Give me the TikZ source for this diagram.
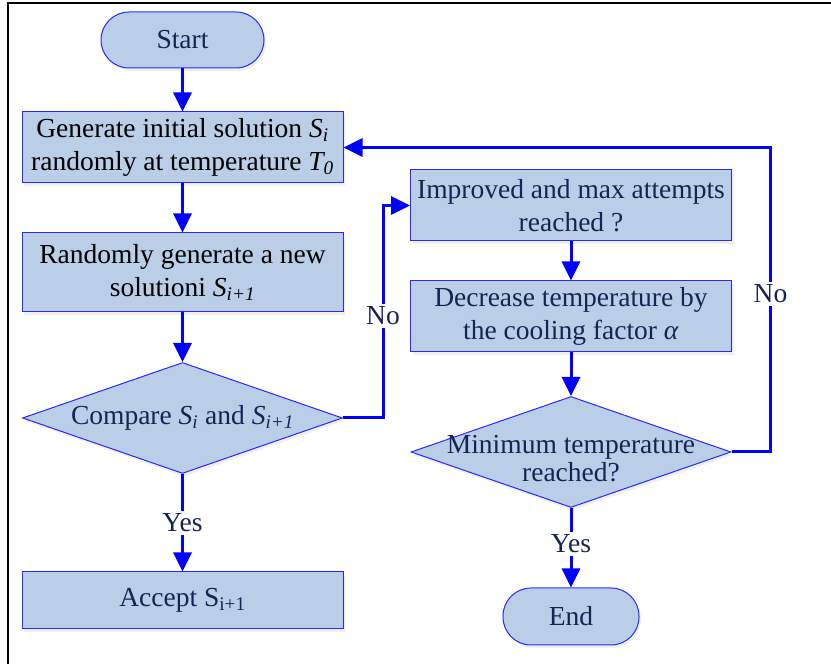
\documentclass[tikz,border=0pt]{standalone}
\usepackage{fontspec}
\setmainfont{Liberation Serif}
\usetikzlibrary{shapes.geometric,arrows.meta,shadows}

\begin{document}
\begin{tikzpicture}[x=1pt,y=1pt,
  every node/.style={font=\fontsize{27.5}{33}\selectfont},
  box/.style={draw=edge, fill=shade, text=ink, line width=1pt, align=center,
    minimum width=321pt, minimum height=71pt, inner sep=0pt,
    drop shadow={opacity=0.12, shadow xshift=2pt, shadow yshift=-3pt}},
  term/.style={box, rounded corners=28pt, minimum width=163pt, minimum height=56pt},
  decide/.style={diamond, aspect=3, draw=edge, fill=shade, text=ink, line width=1pt,
    minimum width=320pt, minimum height=111pt, inner sep=0pt,
    drop shadow={opacity=0.12, shadow xshift=2pt, shadow yshift=-3pt}},
  flow/.style={draw=wire, line width=3pt, -{Triangle[length=19pt,width=18pt]}},
  tag/.style={fill=white, text=ink, inner sep=3pt}]
  \definecolor{ink}{RGB}{22,36,84}
  \definecolor{shade}{RGB}{186,206,232}
  \definecolor{edge}{RGB}{40,40,255}
  \definecolor{wire}{RGB}{0,0,255}

  \useasboundingbox (0,0) rectangle (831,664);
  \draw[line width=2.5pt] (8,0) -- (8,661) -- (831,661);

  % left column
  \node[term] (start) at (182.5,624) {Start};
  \node[box, text=black] (init) at (182.5,516.5)
    {Generate initial solution \textit{S\textsubscript{i}}\\randomly at temperature \textit{T\textsubscript{0}}};
  \node[box, text=black, minimum height=79pt] (newsol) at (182.5,391.5)
    {Randomly generate a new\\solutioni \textit{S\textsubscript{i+1}}};
  \node[decide] (compare) at (182.5,246)
    {Compare \textit{S\textsubscript{i}} and \textit{S\textsubscript{i+1}}};
  \node[box, minimum height=57pt] (accept) at (182.5,63.5) {Accept S\textsubscript{i+1}};

  % right column
  \node[box] (improved) at (571,458.5) {Improved and max attempts\\reached ?};
  \node[box] (decrease) at (571,347.5) {Decrease temperature by\\the cooling factor \textit{α}};
  \node[decide, label={[align=center, text=ink, yshift=-7pt,
      font=\fontsize{27.5}{28}\selectfont]center:Minimum temperature\\reached?}]
    (mintemp) at (571,212) {};
  \node[term, minimum width=136pt, minimum height=57pt] (finish) at (571,47.5) {End};

  % connectors
  \draw[flow] (start) -- (init);
  \draw[flow] (init) -- (newsol);
  \draw[flow] (newsol) -- (compare);
  \draw[flow] (compare) -- node[tag] {Yes} (accept);
  \draw[flow] (compare.east) -- ++(40,0) |- node[tag, pos=0.24] {No} (improved.west);
  \draw[flow] (improved) -- (decrease);
  \draw[flow] (decrease) -- (mintemp);
  \draw[flow] (mintemp) -- node[tag, pos=0.45] {Yes} (finish);
  \draw[flow] (mintemp.east) -- ++(39,0) |- node[tag, pos=0.26] {No} (init.east);
\end{tikzpicture}
\end{document}
